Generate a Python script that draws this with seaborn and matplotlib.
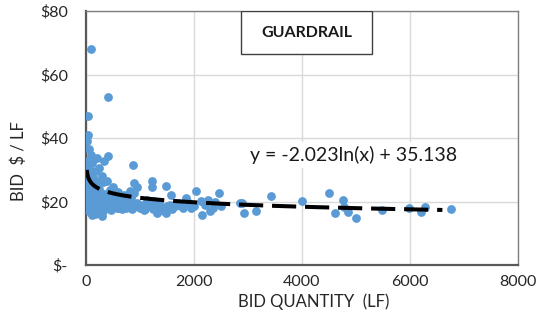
import numpy as np
import pandas as pd
import matplotlib
matplotlib.use("Agg")
import matplotlib.pyplot as plt
import seaborn as sns
from matplotlib.patches import Rectangle
from matplotlib.ticker import FuncFormatter

# ---- data ----
points = [
    (90, 68), (400, 53), (30, 47), (40, 41), (20, 39), (50, 36.5), (400, 34.3), (93, 34.6),
    (333, 32.8), (150, 33.5), (60, 33), (200, 33.8), (120, 32), (30, 31), (870, 31.5), (80, 30),
    (250, 30.5), (180, 29.5), (40, 29), (100, 28.5), (300, 28), (60, 27.5), (150, 27), (390, 26.5),
    (220, 26), (315, 26), (50, 26), (890, 25.8), (945, 24.6), (1220, 26.5), (1220, 24.6), (1480, 24.9),
    (810, 23.3), (500, 24.5), (450, 23.5), (600, 23), (250, 24), (120, 25), (20, 25.5), (10, 24),
    (700, 22), (1570, 22), (890, 22.7), (830, 21.1), (1130, 20.5), (1260, 20.2), (1850, 21.1), (2040, 23.3),
    (1760, 18.6), (2000, 18.6), (2130, 20.2), (2150, 15.7), (1310, 16.4), (1480, 16.4), (1070, 17.3),
    (700, 18.6), (570, 18), (460, 17.3), (300, 15.4), (110, 15.7), (240, 18.9),
    (15, 22), (25, 21), (35, 20), (45, 19), (55, 18), (65, 17), (75, 22.5), (85, 21.5), (95, 20.5),
    (105, 19.5), (115, 18.5), (125, 17.5), (135, 23), (145, 22), (155, 21), (165, 20), (175, 19),
    (185, 18), (195, 17), (205, 23.5), (215, 21.5), (225, 20), (235, 19), (245, 17.5), (260, 22),
    (270, 21), (280, 20), (290, 19), (300, 18), (320, 17), (340, 22.5), (360, 21), (380, 20),
    (400, 19), (420, 18), (440, 20.5), (460, 21.5), (480, 19.5), (520, 18.5), (540, 20), (560, 19),
    (580, 21), (620, 18), (640, 19.5), (660, 17.5), (680, 20), (720, 19), (750, 18), (780, 20.5),
    (800, 19), (850, 17.5), (900, 18.5), (950, 19.5), (1000, 18), (1050, 19), (1100, 17.5),
    (1150, 18.5), (1200, 19), (1250, 17.5), (1300, 18.5), (1350, 19.5), (1400, 18), (1450, 17),
    (1500, 18.5), (1550, 19), (1600, 17.5), (1650, 18.5), (1700, 19.5), (1800, 18), (1900, 19.5),
    (1950, 18), (10, 28), (20, 30), (70, 24), (130, 26), (90, 16.5), (160, 16), (230, 16.5),
    (2260, 20.5), (2350, 18), (2460, 22.7), (2390, 19.8), (2200, 19), (2300, 17), (2500, 18.5),
    (2850, 19.5), (2930, 16.4), (2890, 19.5), (3150, 17), (3430, 21.7), (4000, 20.2), (4500, 22.7),
    (4760, 20.5), (4850, 16.7), (4610, 16.4), (5000, 14.8), (4780, 18.3), (5480, 17.3), (5980, 18),
    (6200, 16.7), (6280, 18.3), (6760, 17.6),
]
bid_quantity = [p[0] for p in points]
bid_price = [p[1] for p in points]

trend_a = -2.023
trend_b = 35.138
trend_range = [13, 6600]

x_ticks = [0, 2000, 4000, 6000, 8000]
y_ticks = [0, 20, 40, 60, 80]

# ---- plot ----
sns.set_theme(style="white")
plt.rcParams["font.family"] = ["Lato", "DejaVu Sans"]

fig = plt.figure(figsize=(5.36, 3.28), dpi=100)
ax = fig.add_axes([0.1604, 0.192, 0.806, 0.7744])

df = pd.DataFrame({"qty": bid_quantity, "price": bid_price})
sns.scatterplot(data=df, x="qty", y="price", ax=ax, color="#5b9bd5",
                s=40, linewidth=0, zorder=3)

xs = np.linspace(trend_range[0], trend_range[1], 800)
ax.plot(xs, trend_a * np.log(xs) + trend_b, color="black", lw=2.9,
        dashes=(6, 2.2), zorder=4, solid_capstyle="butt", dash_capstyle="butt")

ax.set_xlim(0, 8000)
ax.set_ylim(0, 80)
ax.set_xticks(x_ticks)
ax.set_yticks(y_ticks)
ax.yaxis.set_major_formatter(FuncFormatter(lambda v, p: "$-" if v == 0 else f"${v:.0f}"))
ax.tick_params(axis="both", length=0, labelsize=11.5, colors="#262626")
ax.tick_params(axis="x", pad=7)
ax.tick_params(axis="y", pad=13)

ax.grid(True, color="#d9d9d9", lw=1, zorder=0)
ax.set_axisbelow(True)
for side in ["top", "right"]:
    ax.spines[side].set_color("#808080")
    ax.spines[side].set_linewidth(1)
for side in ["left", "bottom"]:
    ax.spines[side].set_color("#595959")
    ax.spines[side].set_linewidth(1.6)

ax.set_xlabel("BID QUANTITY  (LF)", fontsize=12, color="#262626")
ax.set_ylabel("BID  $ / LF", fontsize=12, color="#262626")
ax.xaxis.set_label_coords(0.528, -0.11)
ax.yaxis.set_label_coords(-0.137, 0.41)

ax.text(4960, 34.6, "y = -2.023ln(x) + 35.138", ha="center", va="center",
        fontsize=14, color="#1a1a1a", zorder=5,
        bbox=dict(facecolor="white", edgecolor="none", pad=3))

rect = Rectangle((0.359, 0.831), 0.303, 0.169, transform=ax.transAxes,
                 facecolor="white", edgecolor="#404040", lw=1, zorder=6)
ax.add_patch(rect)
ax.text(0.5105, 0.915, "GUARDRAIL", transform=ax.transAxes, ha="center", va="center",
        fontsize=11.5, fontweight="bold", color="#1a1a1a", zorder=7)

fig.savefig("out.png", dpi=100)
